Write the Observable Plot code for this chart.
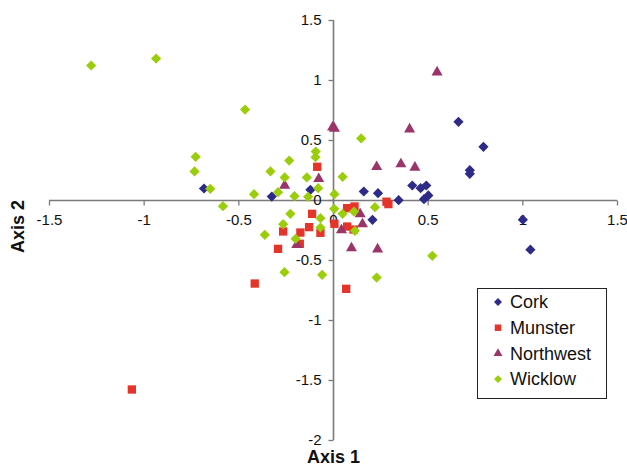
<!DOCTYPE html>
<html>
<head>
<meta charset="utf-8">
<script src="https://cdn.jsdelivr.net/npm/d3@7"></script>
<script src="https://cdn.jsdelivr.net/npm/@observablehq/plot@0.6"></script>
<style>
  html, body { margin: 0; padding: 0; background: #fff; }
  #wrap { position: relative; width: 627px; height: 467px; font-family: "Liberation Sans", Arial, sans-serif; }
  #legend { position: absolute; left: 0; top: 0; pointer-events: none; }
</style>
</head>
<body>
<div id="wrap"></div>
<script>
// ---- data (Axis 1, Axis 2) ----
const cork = [
  [-0.684, 0.100], [-0.326, 0.033], [-0.122, 0.089], [0.660, 0.656], [0.792, 0.447],
  [0.720, 0.253], [0.720, 0.222], [0.416, 0.125], [0.460, 0.103], [0.490, 0.125],
  [0.160, 0.075], [0.235, 0.061], [0.344, 0.003], [0.478, 0.011], [0.501, 0.042],
  [0.206, -0.161], [1.000, -0.160], [1.040, -0.410]
];
const munster = [
  [-0.086, 0.281], [-0.113, -0.111], [-0.129, -0.222], [-0.175, -0.267], [-0.266, -0.258],
  [-0.178, -0.361], [-0.293, -0.403], [-0.416, -0.692], [-1.065, -1.575], [0.005, -0.194],
  [-0.069, -0.269], [0.072, -0.064], [0.111, -0.050], [0.280, -0.010], [0.290, -0.030],
  [0.072, -0.217], [0.106, -0.242], [0.067, -0.736]
];
const northwest = [
  [0.547, 1.069], [-0.005, 0.610], [0.005, 0.600], [0.402, 0.594], [0.356, 0.303],
  [0.228, 0.281], [0.430, 0.275], [-0.078, 0.181], [-0.258, 0.125], [0.141, -0.114],
  [0.153, -0.197], [0.042, -0.247], [0.095, -0.397], [0.233, -0.406], [-0.194, -0.369]
];
const wicklow = [
  [-1.280, 1.125], [-0.937, 1.183], [-0.467, 0.758], [-0.728, 0.364], [-0.734, 0.242],
  [-0.651, 0.097], [-0.584, -0.047], [-0.420, 0.053], [-0.333, 0.242], [-0.234, 0.333],
  [-0.258, 0.192], [-0.293, 0.069], [-0.206, 0.036], [-0.141, 0.192], [-0.134, 0.031],
  [-0.094, 0.408], [-0.095, 0.361], [-0.081, 0.103], [0.005, 0.053], [0.048, 0.197],
  [0.146, 0.517], [-0.228, -0.111], [-0.266, -0.197], [-0.363, -0.286], [-0.200, -0.319],
  [0.004, -0.069], [-0.069, -0.147], [-0.069, -0.225], [-0.259, -0.597], [-0.060, -0.619],
  [0.048, -0.111], [0.108, -0.092], [0.219, -0.056], [0.113, -0.253], [0.522, -0.461],
  [0.228, -0.642]
];
const seriesNames = ["Cork", "Munster", "Northwest", "Wicklow"];
const xTicks = [-1.5, -1, -0.5, 0, 0.5, 1, 1.5];
const yTicks = [1.5, 1, 0.5, 0, -0.5, -1, -1.5, -2];
const xTitle = "Axis 1";
const yTitle = "Axis 2";

// ---- styles ----
const colors = {Cork: "#2e2a88", Munster: "#e5352a", Northwest: "#9b3468", Wicklow: "#9acd0a"};
const symbols = {Cork: "diamond2", Munster: "square", Northwest: "triangle", Wicklow: "diamond2"};
const radii = {Cork: 4.6, Munster: 4.7, Northwest: 4.1, Wicklow: 4.6};
const seriesData = {Cork: cork, Munster: munster, Northwest: northwest, Wicklow: wicklow};

const axisColor = "#7a7a7a";
const tickDown = {draw(ctx) { ctx.moveTo(0, 0); ctx.lineTo(0, 5); }};
const tickLeft = {draw(ctx) { ctx.moveTo(0, 0); ctx.lineTo(-5, 0); }};
const fmt = (d) => String(d);

const chart = Plot.plot({
  width: 627,
  height: 467,
  marginLeft: 49,
  marginRight: 10,
  marginTop: 20,
  marginBottom: 27,
  x: {domain: [-1.5, 1.5], axis: null},
  y: {domain: [-2, 1.5], axis: null},
  style: {fontFamily: "'Liberation Sans', Arial, sans-serif", fontSize: "15px", background: "#fff", color: "#111"},
  marks: [
    Plot.ruleY([0], {stroke: axisColor, strokeWidth: 1.6}),
    Plot.ruleX([0], {stroke: axisColor, strokeWidth: 1.6}),
    Plot.dot(xTicks, {x: (d) => d, y: 0, symbol: tickDown, stroke: axisColor, fill: "none", strokeWidth: 1.3}),
    Plot.dot(yTicks, {x: 0, y: (d) => d, symbol: tickLeft, stroke: axisColor, fill: "none", strokeWidth: 1.3}),
    Plot.text(xTicks, {x: (d) => d, y: 0, text: fmt, dy: 20, textAnchor: "middle", lineAnchor: "middle", fill: "#111", fontSize: 15}),
    Plot.text(yTicks, {x: 0, y: (d) => d, text: fmt, dx: -12, textAnchor: "end", lineAnchor: "middle", fill: "#111", fontSize: 15}),
    ...seriesNames.map((name) =>
      Plot.dot(seriesData[name], {
        x: (d) => d[0],
        y: (d) => d[1],
        symbol: symbols[name],
        r: radii[name],
        fill: colors[name],
        stroke: "none"
      })
    ),
    Plot.text([xTitle], {frameAnchor: "bottom", dy: 17, textAnchor: "middle", lineAnchor: "middle", fontWeight: "bold", fontSize: 18, fill: "#111"}),
    Plot.text([yTitle], {frameAnchor: "left", dx: -31, dy: -4, rotate: -90, textAnchor: "middle", lineAnchor: "middle", fontWeight: "bold", fontSize: 18, fill: "#111"})
  ]
});

const wrap = document.getElementById("wrap");
wrap.appendChild(chart);

// ---- legend overlay ----
const leg = d3.select(wrap).append("svg")
  .attr("id", "legend")
  .attr("width", 627).attr("height", 467);
leg.append("rect")
  .attr("x", 477.5).attr("y", 288.5).attr("width", 129).attr("height", 110)
  .attr("fill", "#fff").attr("stroke", "#222").attr("stroke-width", 1);
const legSym = {diamond2: d3.symbolDiamond2, square: d3.symbolSquare, triangle: d3.symbolTriangle};
const legSize = {Cork: 40, Munster: 42, Northwest: 34, Wicklow: 40};
seriesNames.forEach((name, i) => {
  const cy = 302 + i * 25.7;
  leg.append("path")
    .attr("transform", `translate(498,${cy})`)
    .attr("d", d3.symbol(legSym[symbols[name]], legSize[name])())
    .attr("fill", colors[name]);
  leg.append("text")
    .attr("x", 510).attr("y", cy)
    .attr("dy", "0.35em")
    .attr("font-family", "'Liberation Sans', Arial, sans-serif")
    .attr("font-size", 18)
    .attr("fill", "#111")
    .text(name);
});
</script>
</body>
</html>
